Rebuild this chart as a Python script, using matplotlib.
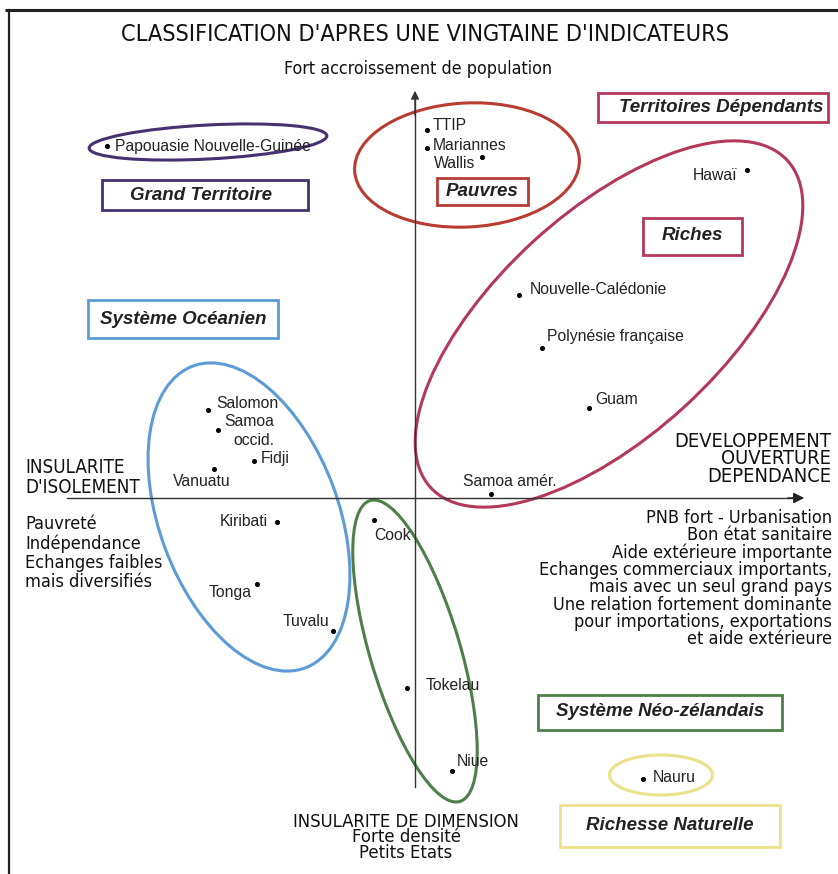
import matplotlib
matplotlib.use("Agg")
import matplotlib.pyplot as plt
from matplotlib.patches import Ellipse, Rectangle
from matplotlib import font_manager

# positions des pays sur le plan (origine = croisement des deux axes)
pays = ["Papouasie Nouvelle-Guinée", "TTIP", "Mariannes", "Wallis", "Hawaï",
        "Nouvelle-Calédonie", "Polynésie française", "Guam", "Samoa amér.",
        "Salomon", "Samoa\noccid.", "Fidji", "Vanuatu", "Kiribati", "Tonga",
        "Tuvalu", "Cook", "Tokelau", "Niue", "Nauru"]
axe1 = [-308, 12, 12, 67, 332, 104, 127, 174, 76,
        -207, -197, -161, -201, -138, -158, -82, -41, -8, 37, 228]
axe2 = [352, 368, 350, 341, 328, 203, 150, 90, 4,
        88, 68, 37, 29, -24, -86, -133, -22, -190, -273, -281]

# groupes : centre, largeur, hauteur, inclinaison des ellipses
groupes = ["Grand Territoire", "Pauvres", "Riches", "Système Océanien",
           "Système Néo-zélandais", "Richesse Naturelle"]
g_centre = [(-207, 356), (52, 333), (194, 174), (-166, -19), (0, -153), (246, -277)]
g_largeur = [238, 225, 484, 322, 314, 103]
g_hauteur = [34, 124, 224, 179, 90, 40]
g_angle = [3, 3, 42.5, 110.4, 106.6, 0]
g_couleur = ["#45326e", "#b83c32", "#b3385a", "#5d9bd6", "#4e7f48", "#ebe38a"]

titre = "CLASSIFICATION D'APRES UNE VINGTAINE D'INDICATEURS"
haut = "Fort accroissement de population"
gauche_titre = ["INSULARITE", "D'ISOLEMENT"]
gauche = ["Pauvreté", "Indépendance", "Echanges faibles", "mais diversifiés"]
droite_titre = ["DEVELOPPEMENT", "OUVERTURE", "DEPENDANCE"]
droite = ["PNB fort - Urbanisation", "Bon état sanitaire",
          "Aide extérieure importante", "Echanges commerciaux importants,",
          "mais avec un seul grand pays", "Une relation fortement dominante",
          "pour importations, exportations", "et aide extérieure"]
bas = ["INSULARITE DE DIMENSION", "Forte densité", "Petits Etats"]

REG = ["Liberation Sans", "DejaVu Sans"]


def police_etroite():
    # police condensee si une est installee, sinon DejaVu Sans
    voulues = ["LiberationSansNarrow-Regular", "DejaVuSansCondensed.ttf",
               "RobotoCondensed-Regular", "Roboto_Condensed-Regular",
               "NotoSans-Condensed.", "NotoSans_Condensed-Regular",
               "OpenSans_Condensed-Regular", "OpenSans-CondensedRegular"]
    fichiers = [f.fname for f in font_manager.fontManager.ttflist]
    for v in voulues:
        for f in fichiers:
            if v in f:
                return font_manager.FontProperties(fname=f)
    for f in font_manager.fontManager.ttflist:
        if f.stretch == "condensed" and f.style == "normal" and f.weight in (400, "normal", "regular"):
            return font_manager.FontProperties(fname=f.fname)
    return font_manager.FontProperties(family="DejaVu Sans")


fp = police_etroite()

fig = plt.figure(figsize=(8.38, 8.74), dpi=100)
ax = fig.add_axes([0, 0, 1, 1])
ax.set_xlim(-415, 423)
ax.set_ylim(-376, 498)
ax.axis("off")
rend = fig.canvas.get_renderer()

# cadre
ax.plot([-410, 423], [488, 488], color="#222", lw=2.2, solid_capstyle="butt")
ax.plot([-406, -406], [488, -376], color="#222", lw=1.6)

# axes
ax.plot([0, 0], [-289, 400], color="#333", lw=1)
ax.annotate("", xy=(0, 410), xytext=(0, 380),
            arrowprops=dict(arrowstyle="-|>", color="#333", lw=1, mutation_scale=12))
ax.plot([-348, 380], [0, 0], color="#333", lw=1)
ax.annotate("", xy=(392, 0), xytext=(370, 0),
            arrowprops=dict(arrowstyle="-|>", color="#222", lw=1, mutation_scale=16))

# ellipses des groupes
for c, w, h, a, col in zip(g_centre, g_largeur, g_hauteur, g_angle, g_couleur):
    ax.add_patch(Ellipse(c, w, h, angle=a, fill=False, ec=col, lw=2.2))

# cadres des noms de groupes
boites = [("Territoires Dépendants", (298, 391), 230, 29, "#b3385a", 8),
          ("Grand Territoire", (-210, 303), 206, 30, "#45326e", -4),
          ("Pauvres", (67, 307), 91, 27, "#b83c32", 0),
          ("Riches", (277, 262), 99, 37, "#b3385a", 0),
          ("Système Océanien", (-232, 179), 190, 38, "#5d9bd6", 0),
          ("Système Néo-zélandais", (245, -214), 244, 35, "#4e7f48", 0),
          ("Richesse Naturelle", (255, -328), 220, 42, "#ebe38a", 0)]
for txt, (cx, cy), w, h, col, dx in boites:
    ax.add_patch(Rectangle((cx - w / 2, cy - h / 2), w, h, fill=False, ec=col, lw=2))
    ax.text(cx + dx, cy, txt, ha="center", va="center", fontsize=13.5,
            fontweight="bold", fontstyle="italic", family=REG, color="#222")

# points
ax.scatter(axe1, axe2, s=7, color="black", zorder=3)

# decalage des etiquettes
decal = [(8, 0, "left"), (6, 4, "left"), (6, 2, "left"), (-7, -6, "right"),
         (-10, -6, "right"), (11, 6, "left"), (5, 11, "left"), (6, 9, "left"),
         (-28, 13, "left"), (8, 6, "left"), (6, -1, "left"), (7, 2, "left"),
         (-41, -13, "left"), (-9, 0, "right"), (-5, -9, "right"), (-4, 10, "right"),
         (0, -15, "left"), (19, 3, "left"), (5, 10, "left"), (10, 1, "left")]


def interligne(t, pas):
    # matplotlib : pas = (h - d) * linespacing + d, mesure sur "lp"
    w, h, d = rend.get_text_width_height_descent("lp", t.get_fontproperties(), ismath=False)
    t.set_linespacing((pas - d) / (h - d))


for nom, x, y, (dx, dy, ha) in zip(pays, axe1, axe2, decal):
    t = ax.text(x + dx, y + dy, nom, ha=ha, va="center", fontsize=11.3, family=REG,
                color="#222", multialignment="right")
    if "\n" in nom:
        interligne(t, 19)


def bloc(lignes, x, y0, pas, ha, largeur):
    # y0 = ligne de base de la premiere ligne ; va='baseline' cale la derniere
    n = len(lignes)
    t = ax.text(x, y0 - (n - 1) * pas, "\n".join(lignes), ha=ha, va="baseline",
                multialignment=ha, fontproperties=fp.copy(), color="#111")
    t.set_fontsize(14)
    bb = t.get_window_extent(rend)
    t.set_fontsize(t.get_fontsize() * largeur / bb.width)
    if n > 1:
        interligne(t, pas)
    return t


# textes des axes
bloc([titre], 10, 457, 0, "center", 610)
bloc([haut], 3, 424, 0, "center", 270)
bloc(gauche_titre, -390, 25, 20, "left", 115)
bloc(gauche, -390, -32, 19, "left", 138)
bloc(droite_titre, 416, 51, 17.5, "right", 158)
bloc(droite, 417, -25, 17.3, "right", 294)
bloc(bas, -9, -329, 15.5, "center", 227)

fig.savefig("out.png", dpi=100, facecolor="white")
